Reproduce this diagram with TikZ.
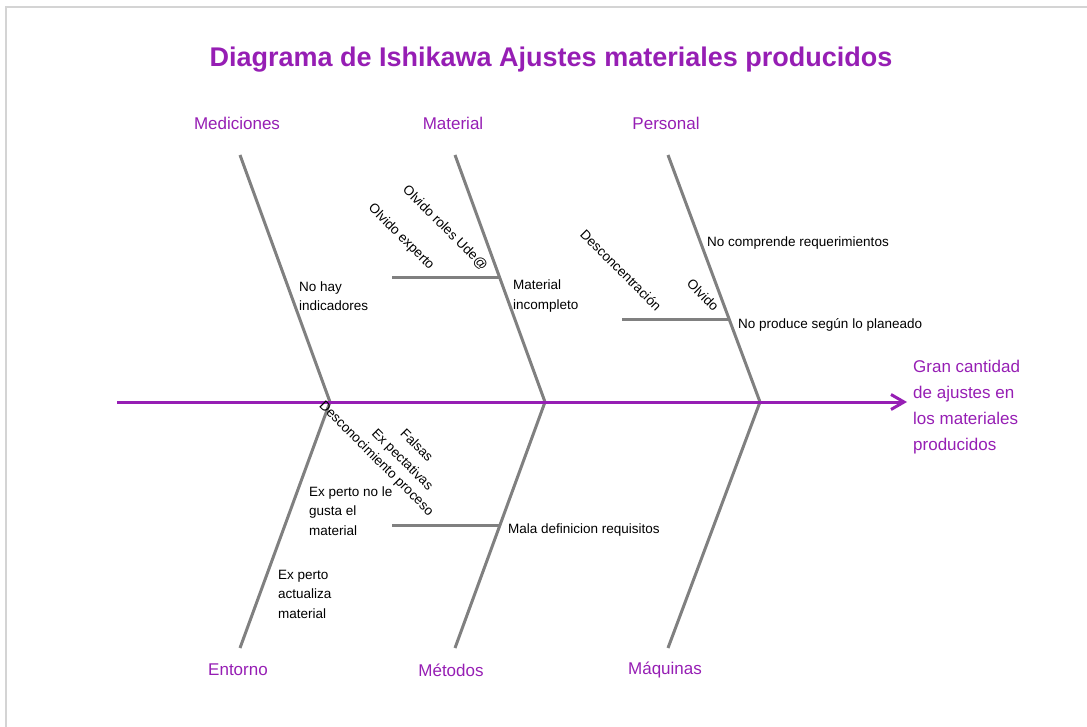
\documentclass[tikz,border=0pt]{standalone}
\usepackage{fontspec}
\setmainfont{Liberation Sans}
\usetikzlibrary{arrows.meta}
\definecolor{ishipurple}{RGB}{150,30,180}
\definecolor{bonegray}{RGB}{128,128,128}
\definecolor{framegray}{RGB}{212,212,212}
\begin{document}
\begin{tikzpicture}[x=1pt, y=-1pt,
    bone/.style={draw=bonegray, line width=3pt},
    spine/.style={draw=ishipurple, line width=3pt, -{Straight Barb[length=13pt,width=15pt]}},
    category/.style={font=\fontsize{17}{20}\selectfont, text=ishipurple},
    cause/.style={font=\fontsize{13.5}{19.5}\selectfont, align=left, inner sep=0pt, anchor=west},
    slanted/.style={font=\fontsize{13.5}{20}\selectfont, rotate=-45, align=center, inner sep=0pt},
    effect/.style={font=\fontsize{17}{26}\selectfont, text=ishipurple, align=left, anchor=west, inner sep=0pt}
]

\useasboundingbox (0,0) rectangle (1087,727);

% Frame (cut off at right and bottom)
\draw[framegray, line width=2pt] (6,727) -- (6,7) -- (1087,7);

% Title
\node[font=\fontsize{27}{32}\selectfont\bfseries, text=ishipurple] (title) at (551,60) {Diagrama de Ishikawa Ajustes materiales producidos};

% Bone end points
\coordinate (medTop) at (240,155);
\coordinate (matTop) at (455,155);
\coordinate (perTop) at (668,155);
\coordinate (entBot) at (240,648);
\coordinate (metBot) at (455,648);
\coordinate (maqBot) at (668,648);
\coordinate (jLeft) at (330,402);
\coordinate (jMid) at (545,402);
\coordinate (jRight) at (760,402);
\coordinate (spineL) at (117,402);
\coordinate (spineR) at (907,402);

% Sub-branch end points
\coordinate (matSubA) at (392,278);
\coordinate (matSubB) at (499,278);
\coordinate (perSubA) at (622,320);
\coordinate (perSubB) at (728,320);
\coordinate (metSubA) at (392,525);
\coordinate (metSubB) at (500,525);

% Bones
\draw[bone] (medTop) -- (jLeft) -- (entBot);
\draw[bone] (matTop) -- (jMid) -- (metBot);
\draw[bone] (perTop) -- (jRight) -- (maqBot);
\draw[bone] (matSubA) -- (matSubB);
\draw[bone] (perSubA) -- (perSubB);
\draw[bone] (metSubA) -- (metSubB);

% Spine and effect
\draw[spine] (spineL) -- (spineR);
\node[effect] (efecto) at (913,407) {Gran cantidad\\de ajustes en\\los materiales\\producidos};

% Categories
\node[category] (mediciones) at (237,123) {Mediciones};
\node[category] (material) at (453,123) {Material};
\node[category] (personal) at (666,123) {Personal};
\node[category] (entorno) at (238,670) {Entorno};
\node[category] (metodos) at (451,670) {Métodos};
\node[category] (maquinas) at (665,670) {Máquinas};

% Causes
\node[cause] (indicadores) at (299,296) {No hay\\indicadores};
\node[cause] (incompleto) at (513,296) {Material\\incompleto};
\node[cause] (comprende) at (707,243) {No comprende requerimientos};
\node[cause] (produce) at (738,325) {No produce según lo planeado};
\node[cause] (requisitos) at (508,530) {Mala definicion requisitos};
\node[cause] (gusta) at (309,511) {Ex perto no le\\gusta el\\material};
\node[cause] (actualiza) at (278,594) {Ex perto\\actualiza\\material};

% Slanted sub-causes
\node[slanted] (roles) at (445,228) {Olvido roles Ude@};
\node[slanted] (experto) at (401,237) {Olvido experto};
\node[slanted] (desconc) at (621,270) {Desconcentración};
\node[slanted] (olvido) at (703,295) {Olvido};
\node[slanted] (proceso) at (376,459) {Desconocimiento proceso};
\node[slanted] (falsas) at (409,453) {Falsas\\Ex pectativas};

\end{tikzpicture}
\end{document}
